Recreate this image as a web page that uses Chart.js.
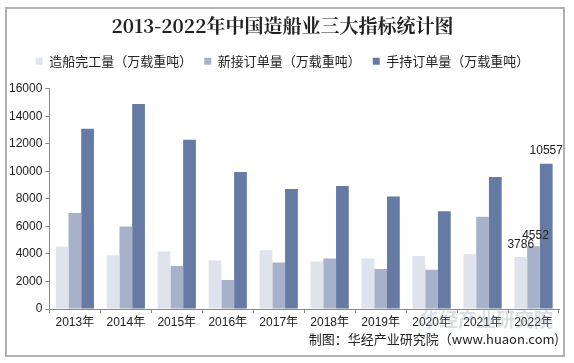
<!DOCTYPE html>
<html>
<head>
<meta charset="utf-8">
<script src="https://cdn.jsdelivr.net/npm/chart.js@4"></script>
<style>
  html, body { margin: 0; padding: 0; background: #fff; }
  #wrap { width: 574px; height: 363px; position: relative; }
</style>
</head>
<body>
<div id="wrap"><canvas id="chart" width="574" height="363"></canvas></div>
<script>
// 数据（万载重吨）
const years = ['2013年', '2014年', '2015年', '2016年', '2017年', '2018年', '2019年', '2020年', '2021年', '2022年'];
const completed = [4534, 3905, 4184, 3532, 4268, 3458, 3672, 3853, 3970, 3786];
const newOrders = [6984, 5995, 3126, 2107, 3373, 3667, 2907, 2853, 6707, 4552];
const holding = [13100, 14890, 12304, 9961, 8723, 8931, 8166, 7111, 9584, 10557];
const seriesNames = ['造船完工量（万载重吨）', '新接订单量（万载重吨）', '手持订单量（万载重吨）'];
const yTicks = [0, 2000, 4000, 6000, 8000, 10000, 12000, 14000, 16000];

const fontCn = '"Liberation Sans", Arial, "Noto Sans CJK SC", sans-serif';

// frame + last-year labels + watermark
const extras = {
  id: 'extras',
  afterDraw(chart) {
    const ctx = chart.ctx;
    ctx.save();
    ctx.strokeStyle = '#b0b0b0';
    ctx.lineWidth = 2;
    ctx.strokeRect(6, 8, 558, 348);

    // value labels on 2022
    ctx.fillStyle = '#222';
    ctx.font = '12px ' + fontCn;
    ctx.textBaseline = 'bottom';
    ctx.textAlign = 'center';
    const last = years.length - 1;
    const m0 = chart.getDatasetMeta(0).data[last];
    const m1 = chart.getDatasetMeta(1).data[last];
    const m2 = chart.getDatasetMeta(2).data[last];
    ctx.fillText(String(holding[last]), m2.x, m2.y - 7);
    ctx.fillText(String(newOrders[last]), m1.x + 2, m1.y - 5);
    ctx.fillText(String(completed[last]), m0.x, m0.y - 6);

    // faint watermark
    ctx.fillStyle = 'rgba(150,160,175,0.35)';
    ctx.font = 'bold 19px "Noto Sans CJK SC", sans-serif';
    ctx.textAlign = 'right';
    ctx.textBaseline = 'middle';
    ctx.fillText('华经产业研究院', 553, 320);
    ctx.restore();
  }
};

new Chart(document.getElementById('chart'), {
  type: 'bar',
  data: {
    labels: years,
    datasets: [
      { label: seriesNames[0], data: completed, backgroundColor: '#dfe3ec' },
      { label: seriesNames[1], data: newOrders, backgroundColor: '#a7b2ca' },
      { label: seriesNames[2], data: holding, backgroundColor: '#657ba3' }
    ]
  },
  options: {
    responsive: false,
    animation: false,
    layout: { padding: { left: 6, right: 15, top: 6, bottom: 6 } },
    datasets: {
      bar: { categoryPercentage: 0.75, barPercentage: 1.0 }
    },
    scales: {
      x: {
        grid: { display: true, drawOnChartArea: false, drawTicks: true, tickLength: 4, color: '#888', offset: true },
        border: { color: '#888', width: 1 },
        ticks: { color: '#222', font: { size: 12, family: fontCn }, padding: 2 }
      },
      y: {
        min: 0,
        max: 16000,
        afterBuildTicks: (axis) => { axis.ticks = yTicks.map(v => ({ value: v })); },
        grid: { drawOnChartArea: false, drawTicks: true, tickLength: 4, color: '#888' },
        border: { color: '#888', width: 1 },
        ticks: {
          color: '#222',
          font: { size: 12, family: fontCn },
          padding: 3,
          callback: (v) => String(v)
        }
      }
    },
    plugins: {
      title: {
        display: true,
        text: '2013-2022年中国造船业三大指标统计图',
        color: '#222',
        font: { size: 19, weight: 'bold', family: '"Noto Serif CJK SC", "DejaVu Serif", "Liberation Serif", serif' },
        padding: { top: 8, bottom: 6 }
      },
      legend: {
        display: true,
        labels: {
          color: '#222',
          boxWidth: 7,
          boxHeight: 7,
          padding: 12,
          font: { size: 13, family: '"Noto Sans CJK SC", sans-serif' }
        }
      },
      subtitle: {
        display: true,
        position: 'bottom',
        align: 'end',
        text: '制图：华经产业研究院（www.huaon.com)',
        color: '#222',
        font: { size: 13, family: '"Noto Sans CJK SC", sans-serif' },
        padding: { top: 0, bottom: 10 }
      },
      tooltip: { enabled: false }
    }
  },
  plugins: [extras, {
    id: 'legendGap',
    beforeInit(chart) {
      if (!chart.legend) return;
      const orig = chart.legend.fit;
      chart.legend.fit = function () {
        orig.call(this);
        this.height += 11;
      };
    }
  }]
});
</script>
</body>
</html>
